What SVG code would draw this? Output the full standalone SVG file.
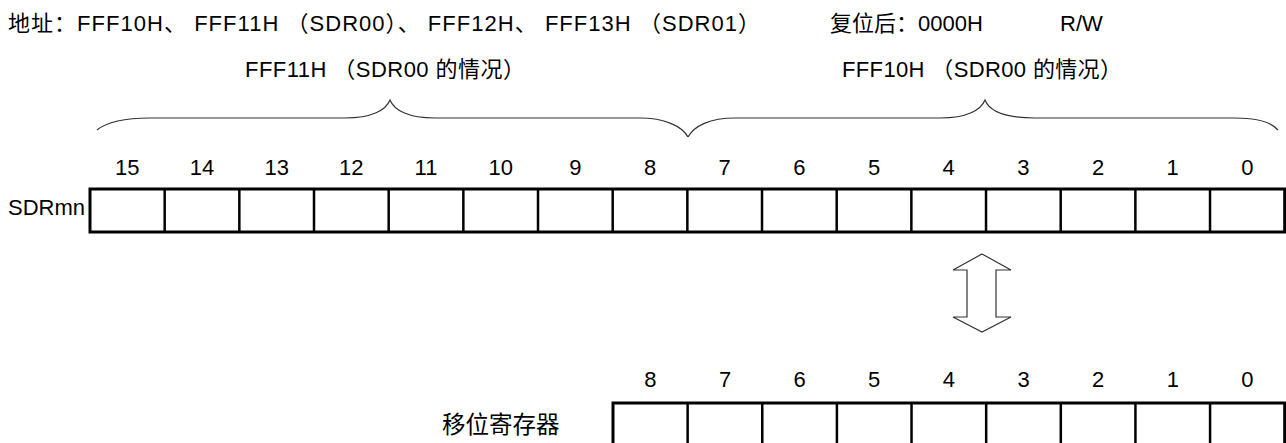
<svg xmlns="http://www.w3.org/2000/svg" width="1286" height="443" viewBox="0 0 1286 443">
<style>
text{font-family:"Liberation Sans","Noto Sans CJK SC",sans-serif;font-size:22px;fill:#000}
.num{text-anchor:middle}
.reg{fill:#fff;stroke:#000;stroke-width:3}
.div{stroke:#000;stroke-width:2.5}
.brace{fill:none;stroke:#333;stroke-width:1.2}
.arrow{fill:#fff;stroke:#333;stroke-width:1.2}
</style>
<rect width="1286" height="443" fill="#fff"/>
<g id="header">
<text x="8" y="31" textLength="752" lengthAdjust="spacing">地址：FFF10H、 FFF11H （SDR00）、 FFF12H、 FFF13H （SDR01）</text>
<text x="830" y="31">复位后：0000H</text>
<text x="1060" y="31">R/W</text>
</g>
<g id="label-high">
<text x="245" y="77" textLength="280" lengthAdjust="spacing">FFF11H （SDR00 的情况）</text>
</g>
<g id="label-low">
<text x="842" y="77" textLength="280" lengthAdjust="spacing">FFF10H （SDR00 的情况）</text>
</g>
<g id="braces">
<path class="brace" d="M97,130 C108,121 125,118 150,118 L345,118 C372,118 386,110 390,100 C394,110 408,118 435,118 L640,118 C664,118 682,126 688,137"/>
<path class="brace" d="M688,137 C694,126 710,118 735,118 L940,118 C967,118 981,110 985,100 C989,110 1003,118 1035,118 L1235,118 C1258,118 1272,123 1278,130"/>
</g>
<g id="sdrmn">
<text x="8" y="215" textLength="77" lengthAdjust="spacingAndGlyphs">SDRmn</text>
<rect class="reg" x="90" y="189" width="1194.7" height="43"/>
<g class="div">
<line x1="164.67" y1="189" x2="164.67" y2="232"/>
<line x1="239.34" y1="189" x2="239.34" y2="232"/>
<line x1="314" y1="189" x2="314" y2="232"/>
<line x1="388.68" y1="189" x2="388.68" y2="232"/>
<line x1="463.35" y1="189" x2="463.35" y2="232"/>
<line x1="538.02" y1="189" x2="538.02" y2="232"/>
<line x1="612.69" y1="189" x2="612.69" y2="232"/>
<line x1="687.35" y1="189" x2="687.35" y2="232"/>
<line x1="762.02" y1="189" x2="762.02" y2="232"/>
<line x1="836.69" y1="189" x2="836.69" y2="232"/>
<line x1="911.36" y1="189" x2="911.36" y2="232"/>
<line x1="986.03" y1="189" x2="986.03" y2="232"/>
<line x1="1060.7" y1="189" x2="1060.7" y2="232"/>
<line x1="1135.37" y1="189" x2="1135.37" y2="232"/>
<line x1="1210.03" y1="189" x2="1210.03" y2="232"/>
</g>
<g>
<text class="num" x="127.3" y="175">15</text>
<text class="num" x="202" y="175">14</text>
<text class="num" x="276.7" y="175">13</text>
<text class="num" x="351.3" y="175">12</text>
<text class="num" x="426" y="175">11</text>
<text class="num" x="500.7" y="175">10</text>
<text class="num" x="575.4" y="175">9</text>
<text class="num" x="650" y="175">8</text>
<text class="num" x="724.7" y="175">7</text>
<text class="num" x="799.4" y="175">6</text>
<text class="num" x="874" y="175">5</text>
<text class="num" x="948.7" y="175">4</text>
<text class="num" x="1023.4" y="175">3</text>
<text class="num" x="1098" y="175">2</text>
<text class="num" x="1172.7" y="175">1</text>
<text class="num" x="1247.4" y="175">0</text>
</g>
</g>
<g id="connectors">
<polygon class="arrow" points="982,254 1011,270 996,270 996,317 1011,317 982,332 953,317 967,317 967,270 953,270"/>
</g>
<g id="shift-register">
<text x="442" y="433" style="font-size:23.5px">移位寄存器</text>
<rect class="reg" x="613" y="403" width="671.7" height="44"/>
<g class="div">
<line x1="687.63" y1="403" x2="687.63" y2="447"/>
<line x1="762.27" y1="403" x2="762.27" y2="447"/>
<line x1="836.9" y1="403" x2="836.9" y2="447"/>
<line x1="911.53" y1="403" x2="911.53" y2="447"/>
<line x1="986.17" y1="403" x2="986.17" y2="447"/>
<line x1="1060.8" y1="403" x2="1060.8" y2="447"/>
<line x1="1135.43" y1="403" x2="1135.43" y2="447"/>
<line x1="1210.07" y1="403" x2="1210.07" y2="447"/>
</g>
<text class="num" x="650.3" y="387">8</text>
<text class="num" x="725" y="387">7</text>
<text class="num" x="799.6" y="387">6</text>
<text class="num" x="874.2" y="387">5</text>
<text class="num" x="948.9" y="387">4</text>
<text class="num" x="1023.5" y="387">3</text>
<text class="num" x="1098.1" y="387">2</text>
<text class="num" x="1172.8" y="387">1</text>
<text class="num" x="1247.4" y="387">0</text>
</g>
</svg>
